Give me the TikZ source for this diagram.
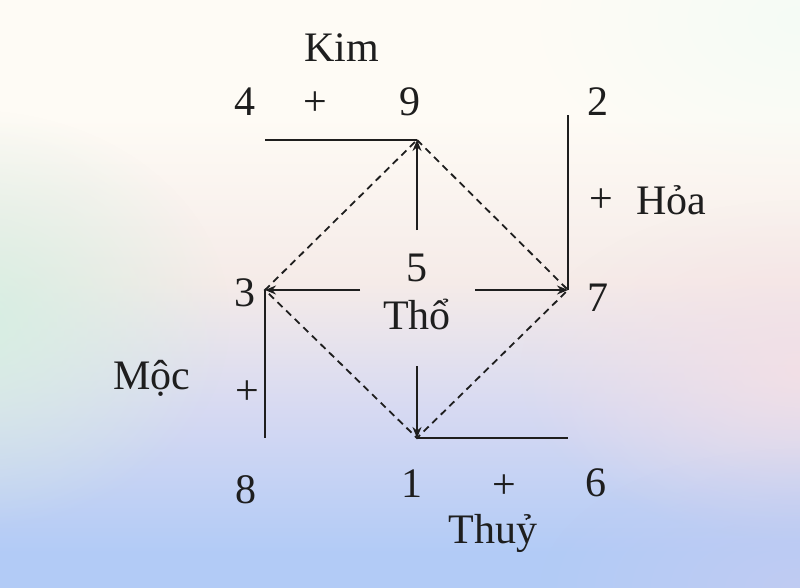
\documentclass[tikz,border=0pt]{standalone}
\usepackage{fontspec}
\setmainfont{Liberation Serif}
\usetikzlibrary{arrows.meta,shadings,fadings}
\definecolor{ink}{HTML}{1E1E1E}
\definecolor{cTop}{HTML}{FEFBF5}
\definecolor{cMid}{HTML}{F5EBE8}
\definecolor{cLow}{HTML}{D6D9F2}
\definecolor{cBot}{HTML}{B2CBF6}
\definecolor{cGreen}{HTML}{D6EFE2}
\definecolor{cPink}{HTML}{F5E0E5}
\definecolor{cMint}{HTML}{F3FCF6}
\definecolor{cLav}{HTML}{C6CBF1}
\pgfdeclareverticalshading{bgshade}{100bp}{color(0bp)=(cBot); color(28bp)=(cBot); color(40bp)=(cLow); color(51bp)=(cMid); color(65bp)=(cTop); color(100bp)=(cTop)}
\tikzfading[name=softfade, inner color=transparent!0, outer color=transparent!100]
\tikzset{
  lbl/.style={text=ink, font=\fontsize{42}{42}\selectfont, inner sep=0pt, anchor=center},
  solidline/.style={draw=ink, line width=2.3pt},
  arr/.style={solidline, -{Stealth[length=11pt,width=9pt]}},
  dashline/.style={draw=ink, line width=1.8pt, dash pattern=on 7pt off 5pt},
}
\begin{document}
\begin{tikzpicture}[x=1pt,y=-1pt]
  \useasboundingbox (0,0) rectangle (800,588);
  \shade[shading=bgshade] (0,0) rectangle (800,588);
  \begin{scope}
    \clip (0,0) rectangle (800,588);
    \fill[cGreen, path fading=softfade] (-30,320) ellipse (260 and 210);
    \fill[cPink, opacity=0.85, path fading=softfade] (800,370) ellipse (280 and 170);
    \fill[cMint, opacity=0.8, path fading=softfade] (800,20) ellipse (260 and 160);
    \fill[cLav, opacity=0.7, path fading=softfade] (800,588) ellipse (260 and 140);
  \end{scope}

  % corner points
  \coordinate (N) at (417,140);
  \coordinate (W) at (265,290);
  \coordinate (E) at (568,290);
  \coordinate (S) at (417,438);
  \coordinate (NL) at (265,140);
  \coordinate (Nin) at (417,230);
  \coordinate (Win) at (360,290);
  \coordinate (Ein) at (475,290);
  \coordinate (Sin) at (417,366);
  \coordinate (ET) at (568,115);
  \coordinate (WB) at (265,438);
  \coordinate (SR) at (568,438);

  % dashed diamond
  \draw[dashline] (N) -- (E) -- (S) -- (W) -- cycle;

  % solid lines
  \draw[solidline] (NL) -- (N);
  \draw[arr] (Nin) -- (N);
  \draw[arr] (Win) -- (W);
  \draw[solidline] (W) -- (WB);
  \draw[arr] (Ein) -- (E);
  \draw[solidline] (E) -- (ET);
  \draw[arr] (Sin) -- (S);
  \draw[solidline] (S) -- (SR);

  % labels
  \node[lbl] (kim) at (342,48) {Kim};
  \node[lbl] (n4) at (245,102) {4};
  \node[lbl] (p1) at (315,104) {+};
  \node[lbl] (n9) at (410,102) {9};
  \node[lbl] (n2) at (598,102) {2};
  \node[lbl] (p2) at (601,201) {+};
  \node[lbl] (hoa) at (671,200) {Hỏa};
  \node[lbl] (n5) at (417,268) {5};
  \node[lbl] (tho) at (417,314) {Thổ};
  \node[lbl] (n3) at (245,293) {3};
  \node[lbl] (n7) at (598,298) {7};
  \node[lbl] (moc) at (152,378) {Mộc};
  \node[lbl] (p3) at (247,393) {+};
  \node[lbl] (n8) at (246,490) {8};
  \node[lbl] (n1) at (412,484) {1};
  \node[lbl] (p4) at (504,487) {+};
  \node[lbl] (n6) at (596,483) {6};
  \node[lbl] (thuy) at (493,533) {Thuỷ};
\end{tikzpicture}
\end{document}
